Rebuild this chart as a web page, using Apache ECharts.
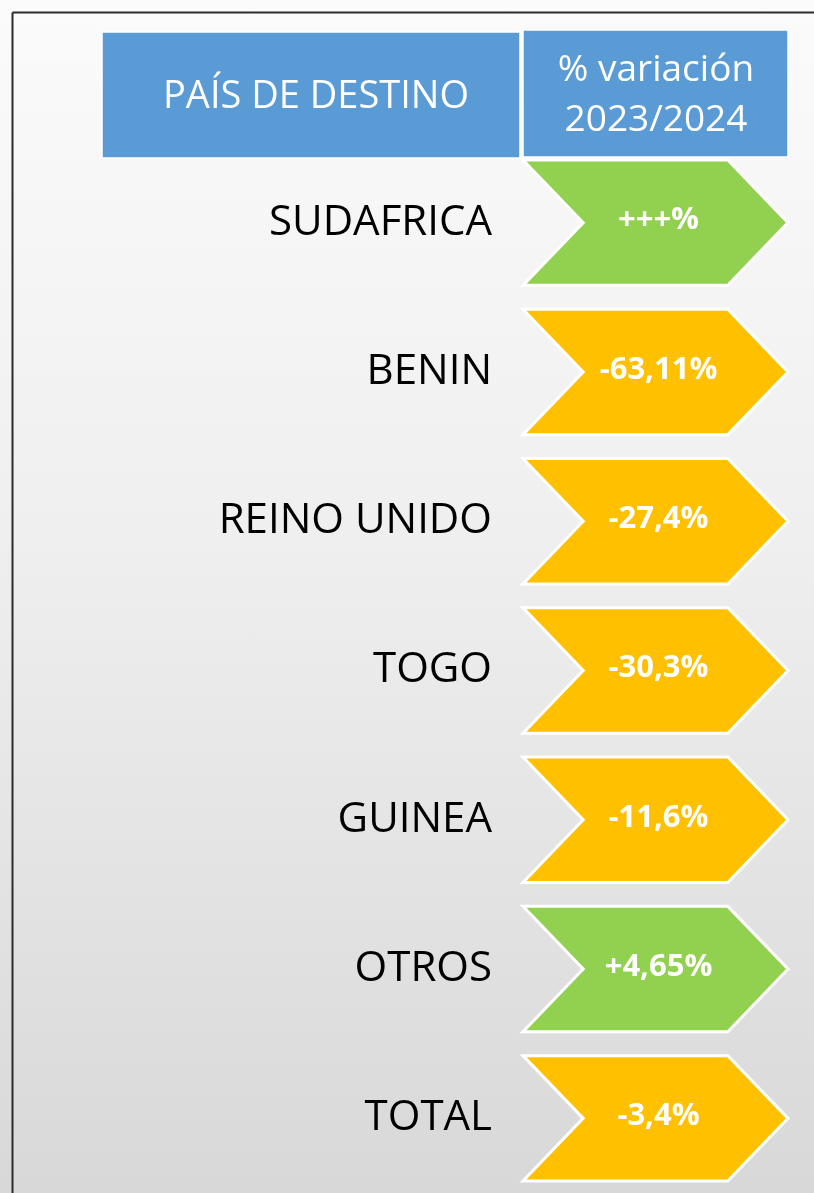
<!DOCTYPE html>
<html>
<head>
<meta charset="utf-8">
<script src="https://cdn.jsdelivr.net/npm/echarts@6/dist/echarts.min.js"></script>
<style>
  html, body { margin: 0; padding: 0; }
  #chart { width: 814px; height: 1193px; background: linear-gradient(to bottom, #fbfbfb 0%, #efefef 45%, #d8d8d8 100%); }
</style>
</head>
<body>
<div id="chart"></div>
<script>
// ---- data ----
const categories = ['SUDAFRICA', 'BENIN', 'REINO UNIDO', 'TOGO', 'GUINEA', 'OTROS', 'TOTAL'];
const variationLabels = ['+++%', '-63,11%', '-27,4%', '-30,3%', '-11,6%', '+4,65%', '-3,4%'];
const headerLabels = ['PAÍS DE DESTINO', '% variación\n2023/2024'];

// ---- styles ----
const GREEN = '#92d050';
const ORANGE = '#ffc000';
const BLUE = '#5b9bd5';
const FONT = '"Open Sans", "Noto Sans", sans-serif';

const chart = echarts.init(document.getElementById('chart'), null, { renderer: 'canvas' });

const seriesData = categories.map((c, i) => ({
  value: [i, variationLabels[i]],
  itemStyle: { color: variationLabels[i].trim().startsWith('-') ? ORANGE : GREEN }
}));

function renderChevron(params, api) {
  const idx = api.value(0);
  const label = variationLabels[idx];
  const pL = api.coord([0, idx]);
  const pR = api.coord([1, idx]);
  const band = api.size([0, 1])[1];
  const h = band * 0.84;
  const d = h * 0.48;
  const x0 = pL[0], x1 = pR[0], cy = pL[1];
  const top = cy - h / 2, bot = cy + h / 2;
  const color = api.visual('color');
  return {
    type: 'group',
    children: [
      {
        type: 'polygon',
        shape: { points: [[x0, top], [x1 - d, top], [x1, cy], [x1 - d, bot], [x0, bot], [x0 + d, cy]] },
        style: { fill: color, stroke: '#ffffff', lineWidth: 3, lineJoin: 'miter' }
      },
      {
        type: 'text',
        style: {
          x: (x0 + x1) / 2 + 3, y: cy - 2,
          text: label, fill: '#ffffff',
          font: 'bold 31px ' + FONT,
          align: 'center', verticalAlign: 'middle'
        }
      }
    ]
  };
}

const option = {
  animation: false,
  backgroundColor: 'transparent',
  grid: { left: 523, right: 26, top: 148, bottom: 0 },
  xAxis: { type: 'value', min: 0, max: 1, show: false },
  yAxis: {
    type: 'category',
    data: categories,
    inverse: true,
    axisLine: { show: false },
    axisTick: { show: false },
    splitLine: { show: false },
    axisLabel: {
      color: '#000000',
      fontFamily: FONT,
      fontSize: 42,
      margin: 31,
      align: 'right'
    }
  },
  series: [{
    type: 'custom',
    renderItem: renderChevron,
    data: seriesData,
    encode: { x: -1, y: 0 },
    clip: false
  }],
  graphic: [
    // frame lines
    { type: 'line', shape: { x1: 12.5, y1: 12.5, x2: 814, y2: 12.5 }, style: { stroke: '#2b2b2b', lineWidth: 2 } },
    { type: 'line', shape: { x1: 12.5, y1: 12.5, x2: 12.5, y2: 1193 }, style: { stroke: '#2b2b2b', lineWidth: 2 } },
    // header boxes
    { type: 'rect', shape: { x: 102, y: 32, width: 418, height: 126 }, style: { fill: BLUE, stroke: '#ffffff', lineWidth: 1.5 } },
    { type: 'rect', shape: { x: 523, y: 30, width: 265, height: 127 }, style: { fill: BLUE, stroke: '#ffffff', lineWidth: 1.5 } },
    { type: 'text', style: { x: 316, y: 97, text: headerLabels[0], fill: '#ffffff', font: '38px ' + FONT, align: 'center', verticalAlign: 'middle' } },
    { type: 'text', style: { x: 656, y: 95, text: headerLabels[1], fill: '#ffffff', font: '37px ' + FONT, lineHeight: 50, align: 'center', verticalAlign: 'middle' } }
  ]
};

chart.setOption(option);
</script>
</body>
</html>
